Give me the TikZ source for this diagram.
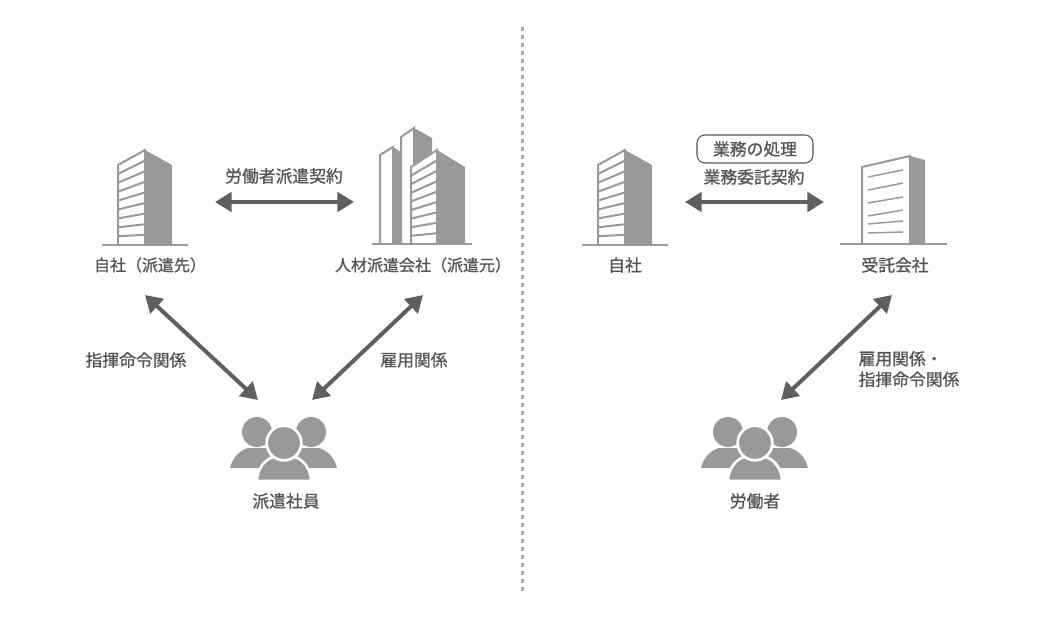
\documentclass[tikz,border=0pt]{standalone}
\usepackage{fontspec}
\setmainfont{Noto Sans CJK JP}[RawFeature={embolden=1.0}]
\usetikzlibrary{arrows.meta}
\definecolor{icongray}{HTML}{999999}
\definecolor{textgray}{HTML}{555555}
\definecolor{arrowgray}{HTML}{5F5F5F}
\tikzset{
	caption/.style={inner sep=0.75pt,text=textgray,font=\fontsize{12.6pt}{15.5pt}\selectfont,align=center},
	twoway/.style={arrowgray,line width=3pt,{Triangle[length=12.5pt,width=14.5pt]}-{Triangle[length=12.5pt,width=14.5pt]}},
	outline/.style={icongray,line width=1.5pt}
}
%slatted tower, drawn with its left edge at x=118
\newcommand{\slattower}[1]{
	\begin{scope}[xshift=#1*0.75pt]
		\fill[icongray] (145,150) -- (172,165) -- (172,245) -- (145,245) -- cycle;
		\draw[outline] (145,245) -- (145,150) -- (118,165) -- (118,245);
		\foreach \i in {1,...,8}
			\draw[outline] (118,{165+\i*8.9}) -- (145,{150+\i*10.6});
		\draw[outline] (102,245) -- (188,245);
	\end{scope}
}
%group of three people
\newcommand{\threepeople}[1]{
	\begin{scope}[xshift=#1*0.75pt]
		\fill[icongray] (257,432) circle (15);
		\fill[icongray] (311,432) circle (15);
		\fill[icongray] (230,468) .. controls (233,456) and (241,450) .. (248,448) -- (266,448) .. controls (275,451) and (285,458) .. (288,468) -- cycle;
		\fill[icongray] (337,468) .. controls (334,456) and (326,450) .. (319,448) -- (301,448) .. controls (292,451) and (282,458) .. (279,468) -- cycle;
		\filldraw[icongray,draw=white,line width=2pt] (257,481) .. controls (257,468) and (266,459) .. (273,457) -- (295,457) .. controls (302,459) and (311,468) .. (311,481) -- cycle;
		\filldraw[icongray,draw=white,line width=2pt] (284,443) circle (17.3);
	\end{scope}
}
\begin{document}
\begin{tikzpicture}[x=0.75pt,y=0.75pt,yscale=-1,xscale=1]
	\useasboundingbox (0,0) rectangle (1062,624);
	
	%Divider
	\coordinate (divtop) at (522.7,27);
	\coordinate (divbot) at (522.7,594);
	\draw[icongray!85,line width=2.25pt,dash pattern=on 3pt off 3pt] (divtop) -- (divbot);
	
	%Left buildings
	\slattower{0}
	\fill[icongray] (393,147) -- (401,152) -- (401,244) -- (393,244) -- cycle;
	\fill[icongray] (414,128) -- (432,138) -- (432,160) -- (414,170) -- cycle;
	\draw[outline] (393,244) -- (393,147) -- (380,155) -- (380,244);
	\draw[outline] (414,170) -- (414,128) -- (401,137) -- (401,244);
	\fill[icongray] (437,150) -- (465,167) -- (465,244) -- (437,244) -- cycle;
	\fill[white] (411,167) -- (437,150) -- (437,244) -- (411,244) -- cycle;
	\draw[outline] (437,244) -- (437,150) -- (411,167) -- (411,244);
	\foreach \i in {1,...,8}
		\draw[outline] (411,{167+\i*8.6}) -- (437,{150+\i*10.4});
	\draw[outline] (372,244) -- (472,244);
	
	%Right buildings
	\slattower{480}
	\fill[icongray] (910,156) -- (925,160) -- (925,244) -- (910,244) -- cycle;
	\draw[outline] (910,244) -- (910,156) -- (862,167) -- (862,244);
	\foreach \a/\b in {177/170,190/183,203/197,216/210,224/221,233/232}
		\draw[icongray,line width=1.1pt] (868,\a) -- (903,\b);
	\draw[outline] (840,244) -- (947,244);
	
	%People
	\threepeople{0}
	\threepeople{471}
	
	% Text Node
	\node[caption,font=\fontsize{12pt}{15pt}\selectfont] (jisha) at (150,265) {自社（派遣先）};
	\node[caption,font=\fontsize{12pt}{15pt}\selectfont] (haken) at (423,265) {人材派遣会社（派遣元）};
	\node[caption] (shain) at (286,501) {派遣社員};
	\node[caption] (jisha2) at (625,265) {自社};
	\node[caption] (jutaku) at (895,265) {受託会社};
	\node[caption] (roudou) at (755,501) {労働者};
	\node[caption] (keiyaku) at (284,176) {労働者派遣契約};
	\node[caption] (itaku) at (754,177) {業務委託契約};
	\node[caption] (shiki) at (136,360) {指揮命令関係};
	\node[caption] (koyou) at (414,360) {雇用関係};
	\node[caption,align=left] (koyou2) at (909,369) {雇用関係・\\指揮命令関係};
	\node[caption,draw=textgray,line width=0.8pt,rounded corners=6pt,minimum width=87pt,minimum height=21pt] (shori) at (755,149) {業務の処理};
	
	%Arrow ends
	\coordinate (a1) at (215,202);
	\coordinate (a2) at (354,202);
	\coordinate (b1) at (145,295);
	\coordinate (b2) at (258,400);
	\coordinate (c1) at (423,295);
	\coordinate (c2) at (312,400);
	\coordinate (d1) at (685,202);
	\coordinate (d2) at (824,202);
	\coordinate (e1) at (892,295);
	\coordinate (e2) at (781,400);
	
	%Arrows
	\draw[twoway] (a1) -- (a2);
	\draw[twoway] (b1) -- (b2);
	\draw[twoway] (c1) -- (c2);
	\draw[twoway] (d1) -- (d2);
	\draw[twoway] (e1) -- (e2);
\end{tikzpicture}
\end{document}
